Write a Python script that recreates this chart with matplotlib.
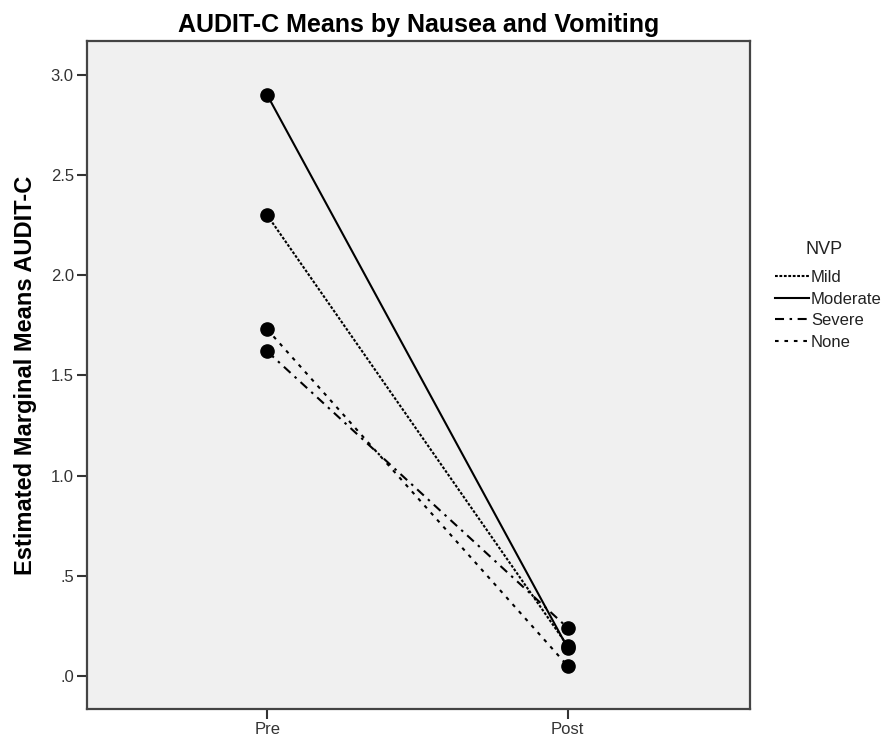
import matplotlib
matplotlib.use("Agg")
import matplotlib.pyplot as plt

plt.rcParams['font.family'] = ['Liberation Sans', 'DejaVu Sans']
plt.rcParams['lines.scale_dashes'] = False

# estimated marginal means
times = ["Pre", "Post"]
groups = ["Mild", "Moderate", "Severe", "None"]
mild = [2.30, 0.15]
moderate = [2.90, 0.14]
severe = [1.62, 0.24]
none = [1.73, 0.05]

styles = {
    "Mild": dict(linestyle=(0, (2.0, 1.2))),
    "Moderate": dict(linestyle="-"),
    "Severe": dict(linestyle=(0, (6.5, 4.0, 1.8, 4.0))),
    "None": dict(linestyle=(0, (2.6, 4.2))),
}

fig = plt.figure(figsize=(8.84, 7.4), dpi=100)
ax = fig.add_axes([0.0984, 0.042, 0.7500, 0.9026])
ax.set_facecolor("#f0f0f0")

x = list(range(len(times)))
for name, vals in zip(groups, [mild, moderate, severe, none]):
    ax.plot(x, vals, color="black", linewidth=1.5, label=name,
            **styles[name])
    ax.plot(x, vals, "o", color="black", markersize=9.5, zorder=3)

ax.set_xlim(-0.6, 1.607)
ax.set_ylim(-0.165, 3.17)
ax.set_xticks(x)
ax.set_xticklabels(times)
ax.set_yticks([0, 0.5, 1.0, 1.5, 2.0, 2.5, 3.0])
ax.set_yticklabels([".0", ".5", "1.0", "1.5", "2.0", "2.5", "3.0"])
ax.tick_params(axis="both", direction="out", length=7.5, width=1.5,
               color="#333333", labelsize=12, labelcolor="#333333", pad=2)
for side in ["top", "right", "bottom", "left"]:
    ax.spines[side].set_color("#444444")
    ax.spines[side].set_linewidth(1.6)

ax.set_ylabel("Estimated Marginal Means AUDIT-C", fontsize=17,
              fontweight="bold")
ax.yaxis.set_label_coords(-0.075, 0.5)
ax.set_title("AUDIT-C Means by Nausea and Vomiting", fontsize=18,
             fontweight="bold", pad=6.5)

handles, labels = ax.get_legend_handles_labels()
fig.text(824 / 884, 1 - 249 / 740, "NVP", fontsize=13, color="#222222",
         ha="center", va="center")
leg = fig.legend(handles, labels, loc="upper left",
                 bbox_to_anchor=(775 / 884, 1 - 270 / 740), frameon=False,
                 fontsize=12, handlelength=2.05, handletextpad=0.1,
                 labelspacing=0.39, borderpad=0, borderaxespad=0)
for t in leg.get_texts():
    t.set_color("#222222")

fig.savefig("out.png", dpi=100)
